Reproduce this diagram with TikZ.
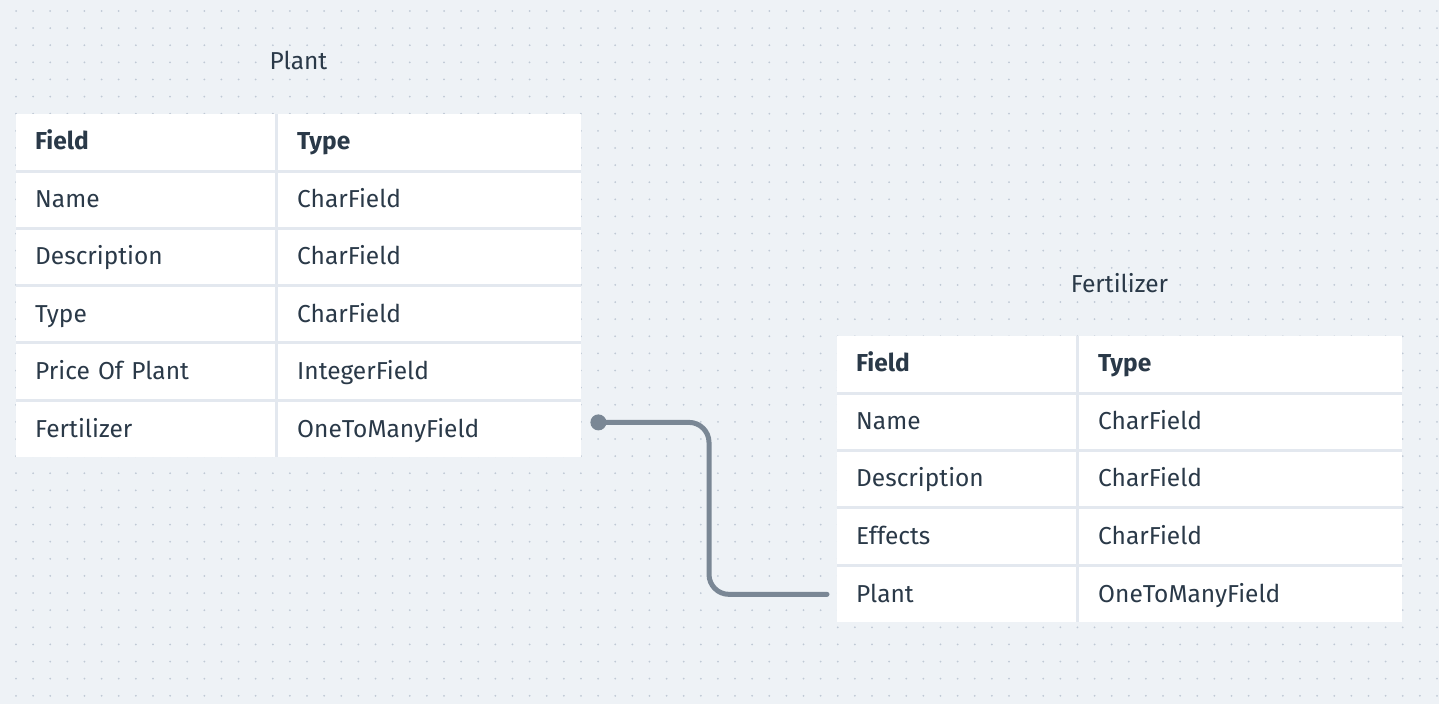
\documentclass[tikz,border=0pt]{standalone}
\usepackage{fontspec}
\setmainfont{Fira Sans}
\usetikzlibrary{calc}
\definecolor{bgc}{HTML}{EEF2F6}
\definecolor{dotc}{HTML}{BFC9D5}
\definecolor{sepc}{HTML}{E3E8EF}
\definecolor{txtc}{HTML}{2A3948}
\definecolor{linec}{HTML}{7A8795}
\tikzset{
  cell/.style={rectangle, fill=white, draw=none, anchor=north west, inner xsep=19pt, inner ysep=0pt,
    align=left, text=txtc, font=\fontsize{24.5}{28}\selectfont, minimum height=54.2pt,
    text height=19pt, text depth=3.5pt},
  lcellP/.style={cell, text width=259pt-38pt, minimum width=259pt},
  rcellP/.style={cell, text width=303pt-38pt, minimum width=303pt},
  lcellF/.style={cell, text width=239pt-38pt, minimum width=239pt},
  rcellF/.style={cell, text width=323pt-38pt, minimum width=323pt},
  hdr/.style={font=\fontsize{24.5}{28}\selectfont\bfseries},
  ttl/.style={text=txtc, font=\fontsize{24.5}{28}\selectfont, inner sep=0pt, text height=19pt, text depth=3.5pt},
  conn/.style={draw=linec, line width=5pt, line cap=round, rounded corners=20pt},
}
\begin{document}
\begin{tikzpicture}[x=1pt,y=-1pt]
\useasboundingbox (0,0) rectangle (1439,704);
\fill[bgc] (0,0) rectangle (1439,704);
\foreach \i in {0,...,83}{
  \foreach \j in {0,...,40}{
    \fill[dotc] (16+\i*17.12, 11+\j*17.12) circle (1.0);
  }
}
% Plant table
\fill[sepc] (16,114) rectangle (581,457);
\node[ttl] (ptitle) at (298.5,62) {Plant};
\foreach \r/\a/\b [count=\k from 0] in {1/Field/Type,2/Name/CharField,3/Description/CharField,4/Type/CharField,5/Price Of Plant/IntegerField,6/Fertilizer/OneToManyField}{
  \pgfmathsetmacro{\yy}{114+\k*57.17+(\k>0?1.5:0)}
  \pgfmathsetmacro{\hh}{57.17-(\k>0?1.5:0)-(\k<5?1.5:0)}
  \ifnum\k=0
    \node[lcellP, hdr, minimum height=\hh pt] (p-l\r) at (16,\yy) {\a};
    \node[rcellP, hdr, minimum height=\hh pt] (p-r\r) at (278,\yy) {\b};
  \else
    \node[lcellP, minimum height=\hh pt] (p-l\r) at (16,\yy) {\a};
    \node[rcellP, minimum height=\hh pt] (p-r\r) at (278,\yy) {\b};
  \fi
}
% Fertilizer table
\fill[sepc] (837,336) rectangle (1402,622);
\node[ttl] (ftitle) at (1119.5,285) {Fertilizer};
\foreach \r/\a/\b [count=\k from 0] in {1/Field/Type,2/Name/CharField,3/Description/CharField,4/Effects/CharField,5/Plant/OneToManyField}{
  \pgfmathsetmacro{\yy}{336+\k*57.2+(\k>0?1.5:0)}
  \pgfmathsetmacro{\hh}{57.2-(\k>0?1.5:0)-(\k<4?1.5:0)}
  \ifnum\k=0
    \node[lcellF, hdr, minimum height=\hh pt] (f-l\r) at (837,\yy) {\a};
    \node[rcellF, hdr, minimum height=\hh pt] (f-r\r) at (1079,\yy) {\b};
  \else
    \node[lcellF, minimum height=\hh pt] (f-l\r) at (837,\yy) {\a};
    \node[rcellF, minimum height=\hh pt] (f-r\r) at (1079,\yy) {\b};
  \fi
}
% connector
\coordinate (cs) at ($(p-r6.east)+(17,-7)$);
\coordinate (ce) at ($(f-l5.west)+(-10,0)$);
\coordinate (cm) at (709,0);
\draw[conn] (cs) -- (cs -| cm) -- (cm |- ce) -- (ce);
\fill[linec] (cs) circle (8);
\end{tikzpicture}
\end{document}
